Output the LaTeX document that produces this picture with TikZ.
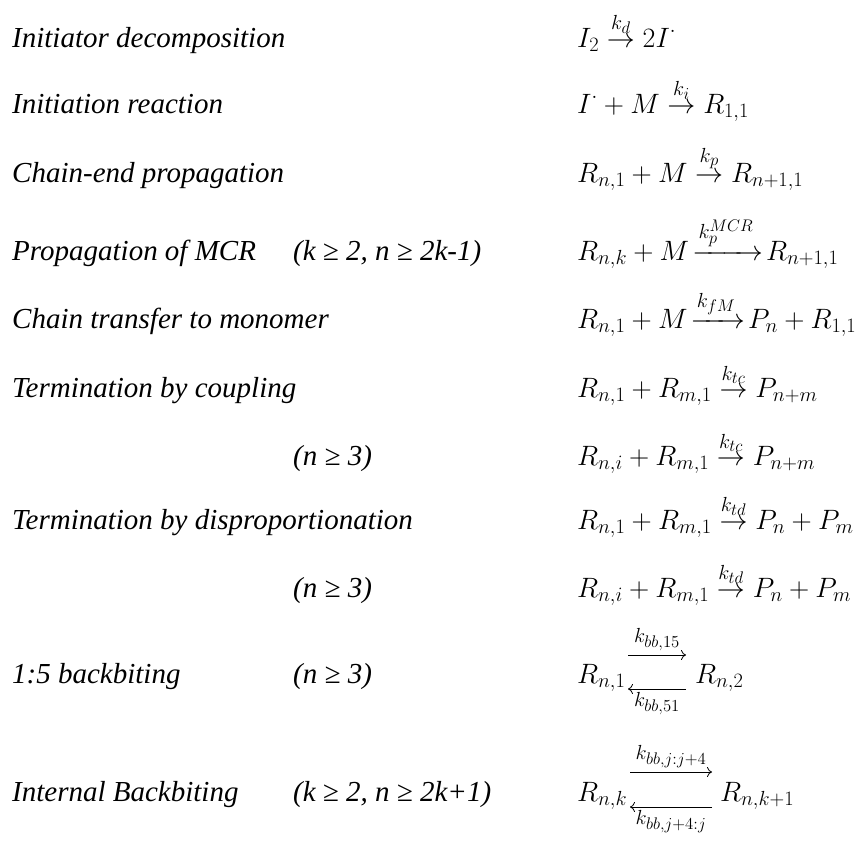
\RequirePackage{fix-cm}
\documentclass[tikz,border=0pt]{standalone}
\usepackage{amsmath}
\usepackage[no-math]{fontspec}
\setmainfont{Liberation Serif}
\DeclareMathSizes{28}{28}{20.4}{16.8}
\usetikzlibrary{arrows.meta}
\begin{document}
\begin{tikzpicture}[x=1pt,y=-1pt,
  lab/.style={anchor=base west,inner sep=0pt,font=\fontsize{29}{34}\selectfont\itshape},
  eq/.style={anchor=base west,inner sep=0pt,font=\fontsize{28}{34}\selectfont},
  klab/.style={inner sep=0pt,font=\fontsize{28}{34}\selectfont},
  rxn/.style={-{To[length=5pt,width=10pt]},line width=0.8pt}]
\path[use as bounding box] (0,0) rectangle (861,841);
% row 1
\node[lab] (t1) at (12,47) {Initiator decomposition};
\node[eq] (e1) at (577,47) {$I_2\overset{k_d}{\rightarrow}2I^{\cdot}$};
% row 2
\node[lab] (t2) at (12,113) {Initiation reaction};
\node[eq] (e2) at (577,113) {$I^{\cdot}+M\overset{k_i}{\rightarrow}R_{1,1}$};
% row 3
\node[lab] (t3) at (12,182) {Chain-end propagation};
\node[eq] (e3) at (577,182) {$R_{n,1}+M\overset{k_p}{\rightarrow}R_{n+1,1}$};
% row 4
\node[lab] (t4) at (12,260) {Propagation of MCR};
\node[lab] (c4) at (293,260) {(k ≥ 2, n ≥ 2k-1)};
\node[eq] (e4) at (577,260) {$R_{n,k}+M\mkern-3mu\xrightarrow{k_p^{MCR}}\mkern-3mu R_{n+1,1}$};
% row 5
\node[lab] (t5) at (12,328) {Chain transfer to monomer};
\node[eq] (e5) at (577,328) {$R_{n,1}+M\mkern-3mu\xrightarrow{k_{fM}}\mkern-3mu P_n+R_{1,1}$};
% row 6
\node[lab] (t6) at (12,397) {Termination by coupling};
\node[eq] (e6) at (577,397) {$R_{n,1}+R_{m,1}\overset{k_{tc}}{\rightarrow}P_{n+m}$};
% row 7
\node[lab] (c7) at (293,465) {(n ≥ 3)};
\node[eq] (e7) at (577,465) {$R_{n,i}+R_{m,1}\overset{k_{tc}}{\rightarrow}P_{n+m}$};
% row 8
\node[lab] (t8) at (12,529) {Termination by disproportionation};
\node[eq] (e8) at (577,529) {$R_{n,1}+R_{m,1}\overset{k_{td}}{\rightarrow}P_n+P_m$};
% row 9
\node[lab] (c9) at (293,597) {(n ≥ 3)};
\node[eq] (e9) at (577,597) {$R_{n,i}+R_{m,1}\overset{k_{td}}{\rightarrow}P_n+P_m$};
% row 10
\node[lab] (t10) at (12,683) {1:5 backbiting};
\node[lab] (c10) at (293,683) {(n ≥ 3)};
\node[eq] (a10) at (577,683) {$R_{n,1}$};
\node[eq] (b10) at (695,683) {$R_{n,2}$};
\coordinate (u10l) at (628,655); \coordinate (u10r) at (686,655);
\coordinate (d10l) at (628,689); \coordinate (d10r) at (686,689);
\draw[rxn] (u10l) -- node[klab,above=4pt] (k10u) {$\scriptstyle k_{bb,15}$} (u10r);
\draw[rxn] (d10r) -- node[klab,below=3pt] (k10d) {$\scriptstyle k_{bb,51}$} (d10l);
% row 11
\node[lab] (t11) at (12,801) {Internal Backbiting};
\node[lab] (c11) at (293,801) {(k ≥ 2, n ≥ 2k+1)};
\node[eq] (a11) at (577,801) {$R_{n,k}$};
\node[eq] (b11) at (720,801) {$R_{n,k+1}$};
\coordinate (u11l) at (630,772); \coordinate (u11r) at (712,772);
\coordinate (d11l) at (630,807); \coordinate (d11r) at (712,807);
\draw[rxn] (u11l) -- node[klab,above=4pt] (k11u) {$\scriptstyle k_{bb,j:j+4}$} (u11r);
\draw[rxn] (d11r) -- node[klab,below=3pt] (k11d) {$\scriptstyle k_{bb,j+4:j}$} (d11l);
\end{tikzpicture}
\end{document}
